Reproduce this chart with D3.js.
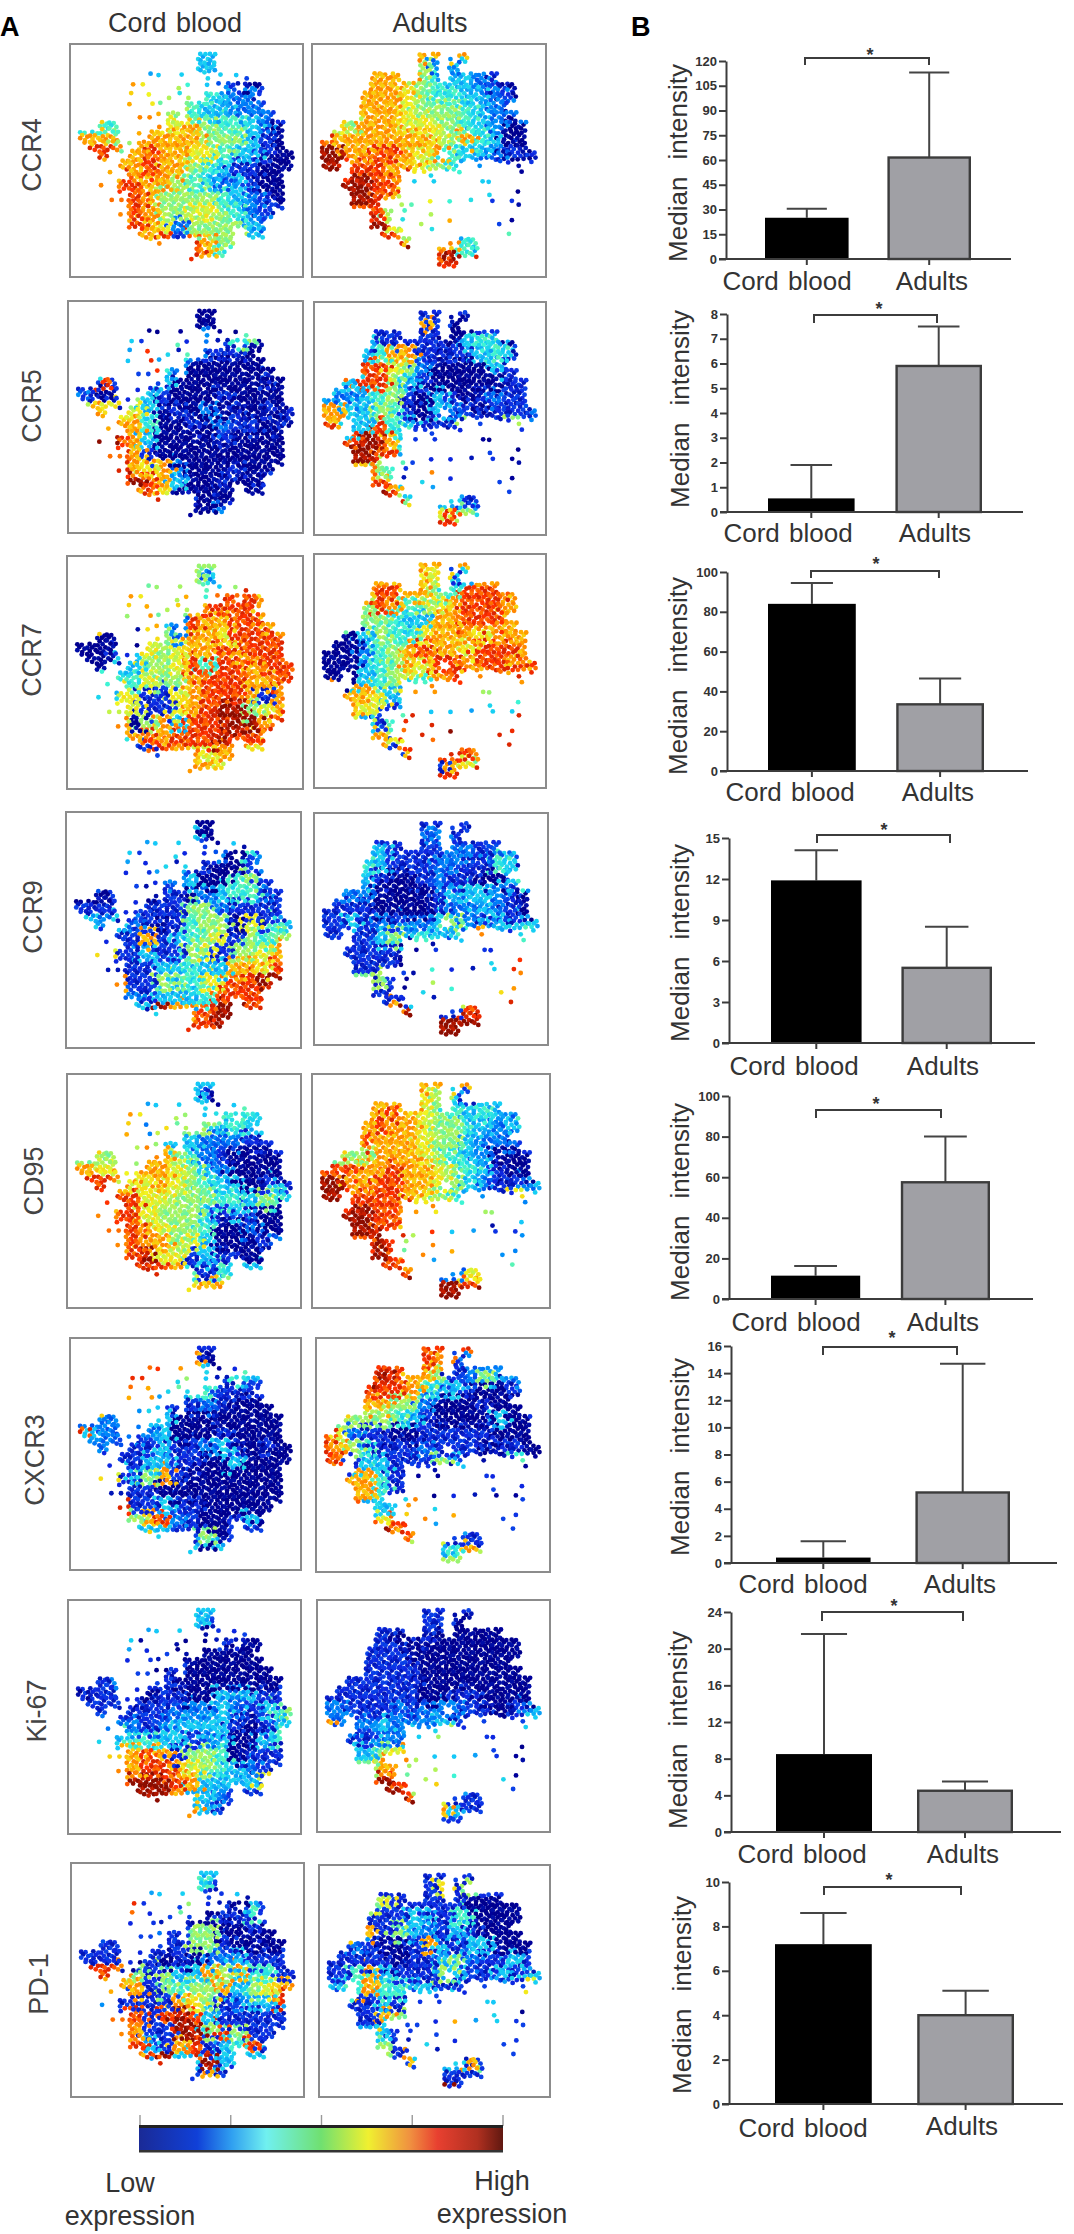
<!DOCTYPE html>
<html>
<head>
<meta charset="utf-8">
<script src="https://cdn.jsdelivr.net/npm/d3@7/dist/d3.min.js"></script>
<style>
html,body{margin:0;padding:0;background:#fff}
svg{display:block}
text{font-family:"Liberation Sans",Arial,sans-serif;fill:#333}
</style>
</head>
<body>
<div id="chart"></div>
<script>
/* ---------- panel B values ---------- */
const groups = ["Cord blood", "Adults"];
const markers = ["CCR4","CCR5","CCR7","CCR9","CD95","CXCR3","Ki-67","PD-1"];
const cordMedian = [25, 0.55, 84, 11.9, 11.5, 0.4, 8.5, 7.2];
const cordUpper  = [30.5, 1.9, 94.5, 14.1, 16.3, 1.6, 21.6, 8.6];
const adultMedian = [61.5, 5.9, 33.5, 5.5, 57.5, 5.2, 4.5, 4.0];
const adultUpper  = [113, 7.5, 46.5, 8.5, 80, 14.7, 5.5, 5.1];
const yMax  = [120, 8, 100, 15, 100, 16, 24, 10];
const yStep = [15, 1, 20, 3, 20, 2, 4, 2];

/* ---------- panel A: shape of the two clouds (# dense, + sparse) ---------- */
const cordShape = [
"........................",
".............##.........",
".............##.........",
"........++.+..++.++.....",
"......++...++.++#+##....",
"......+.+.+++.#####+....",
"......+.++..########....",
".......+++#+#########...",
"...##....+############..",
".####..+##############..",
".+###++###############..",
"...#.+#################.",
".....##################.",
"....+.################..",
"...+.#################..",
".....+################..",
"....++################..",
".....+###############...",
"......##############....",
".......##########.##....",
"........++...####.......",
".............###........",
"............+...........",
"........................"];
const adultShape = [
"........................",
"...........##.+#........",
"...........##.#.........",
"......###..##.#####.....",
"......###############...",
".....################...",
".....###############....",
".....################...",
"...###################..",
"..####################..",
".#####################..",
".############.#########.",
".##.###########+.+.++++.",
"....#####.+++..+.....+..",
"...######.+.+....++.....",
"....#####.........+..+..",
"....###..++.+.+.+.+.++..",
"......##++..+...........",
"......##.+.+..+....++...",
".......##+..+.......+...",
".........#....+##.......",
".............####.......",
".............##.........",
"........................"];

/* ---------- panel A: expression level (0 low – 9 high) by picture region ---------- */
const ccr4Cord = ["3333333333333333","3333333333333333","3333766433210011","7777765544322111","7777775543322211","4444776675443200","7775777775553100","8887787766433100","7777787754311000","7778877543231000","8888875555432100","7777875566542111","8888876255553222","7777778187553333","5555555587444444","4444444444444444"];
const ccr4Adult = ["7777777777777777","7777777522321111","7777777543321000","7777776544332100","7777776555432222","6657776665432000","8777777765743000","9977887674332111","9988877654321000","9999888333333000","9999876644431111","8888854577531000","9999965544331111","8888887277444444","9999999989433333","8888888888888888"];
const ccr5Cord = ["0000000000000000","0000000000000000","3333311112145000","3333483421110001","4444484200000000","1181113000000100","2101531000100000","5766630102010101","4777740010211010","9998730000100000","8888710000000000","8888767200010000","8888987300100100","8888786010000000","6666666600210000","4444444440000000"];
const ccr5Adult = ["1111111111111111","1111111710011111","3333111110343000","3333477111134311","8888865200003111","3338853100000111","3223451031012111","7733541032101112","8733843111511511","8889974110000000","9999883111111002","7777541711111033","8888873333311344","9999985533111111","6666666668531111","8888888888533333"];
const ccr7Cord = ["5555555555555555","5555555552355555","7777765754888666","5555475578888766","7777773287788777","0000065277688885","0001365677878888","0003355684887888","4444465578887788","3336611678887178","6666611678995678","7777057388899788","4444787888988877","1111118776776677","8888888877677777","8888888888888888"];
const ccr7Adult = ["7777777777777777","7777777661377777","7777887754888777","5555874567888777","5555543377888777","0003544677767778","0002457877688877","0003457688788788","0003456478878878","7777633777754444","7776613333333377","6663148899968888","7777768888888866","7777717888878888","8888888817655555","8888888888888888"];
const ccr9Cord = ["0000000000000000","3333333330033333","3333311101204111","1111113311001210","2222212230045111","0001101102344211","1111111155211112","3323210145506143","1111171345615455","6661131156155677","1111113343377688","7777115546688999","2222213334888899","3333339778998888","9999999988999999","9999999999999999"];
const ccr9Adult = ["1111111111111111","1111111221111111","3333311112212311","4444311122114311","3333100121100342","2222000013332100","1111000012232100","1131212235213133","1111353433473344","1111110011118844","1111110461133877","5555510564344787","1111111313666888","1111179711888888","9999999999999999","9999999999999999"];
const cd95Cord = ["3333333333333333","3333333331033333","7777765533444333","7777726555343333","7777753332221111","5555577542100000","7766677653200001","8887667654330131","8888866555443543","7778865553131000","8888876554002000","7777877563000121","8888896613110033","8888888741433333","6666666667755555","5555555555555555"];
const cd95Adult = ["7777777777777777","7777777653133333","7777787654343222","7777877655432344","7778777655322211","5555777654320000","8887787765431000","9977887765321123","9988887654321623","9999888766553330","9999887883301111","8888985777222222","9999987732222244","8888888822665444","9999999999876666","9999999999999999"];
const cxcr3Cord = ["1111111111111111","8888888770011111","9999887543143311","7777773344111100","7777431112100000","2222233000000000","8322123000100000","2221113112310100","1111133110030000","6661357100000000","1111110000000000","8888113110000000","5555578210013000","3333333115011111","3333333330311111","1111111111111111"];
const cxcr3Adult = ["8888888888888888","8888888871222222","8888987751253211","8888887433100121","7777755200010001","5555543100003000","8621100111110000","8754111211101100","8813311153100400","7777411000111111","7777411001110000","8883337337660111","8888688733331333","8888978661111111","5555555534711111","5555555555555555"];
const ki67Cord = ["3333333333333333","3333333333111111","3333300000110000","1111111000000000","1111100100000000","1112111000000000","0111101100323110","1111111222321345","2222212333310133","3333443312300341","7777787155401111","5557788765432111","8888999873333611","9999999733211111","3333333373111111","1111111111111111"];
const ki67Adult = ["1111111111111111","1111111110000000","1111100100000000","1111110000000000","1111111000000000","1111111000000000","1111111001100000","2211121222110123","7222322231110133","1111223355111001","3333567353311001","5555775544333001","8888988573333300","9999998861111111","9999999873111111","1111111111111111"];
const pd1Cord = ["3333333333333333","3333333344133333","8888811511103111","1111111100114100","2222221155001000","1111111155100000","1111010102231111","8887515337574411","7777715455735677","2211111765123383","8888818983111111","7777711995851111","8888831781348161","7777789339333333","8888888817111111","9999999999111111"];
const pd1Adult = ["1111111111111111","1111111161511111","5555611111000000","1111113314400000","7777153213100000","1121001731330000","1111101135211310","1147311153113133","3347443311111160","1111311113333000","1111755177333100","3333311111111111","5555517311111111","5555517733711111","1111111111151111","9999999991111111"];

const cordPanels  = [ccr4Cord, ccr5Cord, ccr7Cord, ccr9Cord, cd95Cord, cxcr3Cord, ki67Cord, pd1Cord];
const adultPanels = [ccr4Adult, ccr5Adult, ccr7Adult, ccr9Adult, cd95Adult, cxcr3Adult, ki67Adult, pd1Adult];

/* ---------- colour ---------- */
const levelColours = ["#00008e","#0a26e0","#0078f8","#12c8f8","#3cf4d4","#98f470","#f0f420","#ffac00","#ff3000","#8c0a00"];
const barColours = [[0,"#1a2a96"],[0.16,"#1040d8"],[0.255,"#30a0f0"],[0.35,"#70f0f0"],[0.5,"#70e070"],[0.63,"#f0f030"],[0.745,"#f09040"],[0.82,"#e84030"],[0.93,"#b03020"],[1,"#601810"]];

/* ---------- layout ---------- */
const framesCord = [[70,303,44,277],[68,303,301,533],[67,303,556,789],[66,301,812,1048],[67,301,1074,1308],[70,301,1338,1570],[68,301,1600,1834],[71,304,1863,2097]];
const framesAdult = [[312,546,44,277],[314,546,302,535],[314,546,554,788],[314,548,813,1045],[312,550,1074,1308],[316,550,1338,1572],[317,550,1600,1832],[319,550,1865,2097]];
const markerLabelPos = [[41,155],[41,406],[41,660],[42,917],[43,1181],[44,1460],[46,1711],[48,1984]];
const barFrames = [
 [726,61,259,1011,765,849,888,971],[727,314,512,1023,768,855,896,982],
 [727,572,771,1028,768,857,898,984],[729,838,1043,1035,771,862,902,992],
 [729,1096,1299,1033,771,861,902,990],[731,1346,1563,1057,776,871,916,1010],
 [731,1612,1832,1061,776,872,917,1013],[729,1882,2104,1063,775,873,919,1014]];
const brackets = [[805,929,58,65,870,50],[814,937,315,323,879,304],[811,939,571,578,876,559],[817,950,835,843,884,825],
 [816,941,1110,1118,876,1099],[823,957,1347,1355,892,1333],[822,963,1612,1621,894,1601],[824,961,1887,1895,889,1875]];
const barLabels = [[787,932,290,290],[788,935,542,542],[790,938,801,801],[794,943,1075,1075],[796,943,1331,1331],[803,960,1593,1593],[802,963,1863,1863],[803,962,2137,2135]];
const yLabels = [[687,163],[689,409],[687,676],[689,943],[689,1202],[689,1457],[687,1730],[691,1995]];

const svg = d3.select("#chart").append("svg").attr("width",1074).attr("height",2234).attr("viewBox","0 0 1074 2234");
const defs = svg.append("defs");
defs.append("filter").attr("id","soft").attr("x","-5%").attr("y","-5%").attr("width","110%").attr("height","110%")
  .append("feGaussianBlur").attr("stdDeviation",0.6);
const grad = defs.append("linearGradient").attr("id","jet");
grad.selectAll("stop").data(barColours).join("stop").attr("offset",d=>d[0]).attr("stop-color",d=>d[1]);

const colour = d3.scaleLinear().domain(d3.range(levelColours.length)).range(levelColours).clamp(true);
/* fixed placement of the dots inside a cell of the cloud, with the small shade step each dot takes */
const stamps = [
 [[.12,.2,0],[.62,.08,.3],[.9,.42,-.5],[.38,.52,.15],[.1,.88,-.3],[.7,.82,.3]],
 [[.3,.06,-.5],[.82,.2,.15],[.08,.45,.3],[.55,.42,0],[.32,.78,-.3],[.92,.7,-.5]],
 [[.5,.15,.15],[.05,.1,-.3],[.78,.55,.3],[.25,.38,-.5],[.55,.9,0],[.05,.7,.3]],
 [[.2,.55,.3],[.7,.3,-.5],[.42,.02,0],[.95,.05,.15],[.45,.7,-.3],[.85,.92,.3]]];
const shadeSpread = 2.4;

function cloud(frame, shape, levels){
  const [x0,x1,y0,y1] = frame;
  const gridN = shape.length, lvN = levels.length;
  const x = d3.scaleLinear().domain([0,gridN]).range([x0,x1]);
  const y = d3.scaleLinear().domain([0,gridN]).range([y0,y1]);
  const dots = [];
  shape.forEach((row,r)=>{
    [...row].forEach((ch,c)=>{
      if(ch==="." ) return;
      const s = stamps[(r*7+c*3+(r*c)%3)%4];
      (ch==="#" ? s : s.slice(0,1)).forEach(p=>{
        const gx=c+p[0], gy=r+p[1];
        const sx=c+.5+(p[0]-.5)*shadeSpread, sy=r+.5+(p[1]-.5)*shadeSpread;
        const lr=levels[Math.max(0,Math.min(lvN-1,Math.floor(sy/gridN*lvN)))];
        const lv=+lr[Math.max(0,Math.min(lr.length-1,Math.floor(sx/gridN*lr.length)))]+p[2];
        dots.push({gx,gy,lv});
      });
    });
  });
  const g = svg.append("g").attr("filter","url(#soft)");
  g.selectAll("circle").data(dots).join("circle")
    .attr("cx",d=>x(d.gx)).attr("cy",d=>y(d.gy)).attr("r",2.4).attr("fill",d=>colour(d.lv));
  svg.append("rect").attr("x",x0).attr("y",y0).attr("width",x1-x0).attr("height",y1-y0)
    .attr("fill","none").attr("stroke","#8c8c8c").attr("stroke-width",2);
}
markers.forEach((m,i)=>{
  cloud(framesCord[i], cordShape, cordPanels[i]);
  cloud(framesAdult[i], adultShape, adultPanels[i]);
  const [lx,ly]=markerLabelPos[i];
  svg.append("text").attr("transform",`translate(${lx},${ly}) rotate(-90)`)
    .attr("text-anchor","middle").attr("font-size",27).style("fill","#444").text(m);
});

svg.append("text").attr("x",0).attr("y",36).attr("font-size",27).attr("font-weight","bold").style("fill","#000").text("A");
svg.append("text").attr("x",631).attr("y",36).attr("font-size",27).attr("font-weight","bold").style("fill","#000").text("B");
svg.append("text").attr("x",175).attr("y",32).attr("text-anchor","middle").attr("font-size",27).style("word-spacing","2px").text(groups[0]);
svg.append("text").attr("x",430).attr("y",32).attr("text-anchor","middle").attr("font-size",27).text(groups[1]);

markers.forEach((m,i)=>{
  const [ax,yTop,y0,xEnd,L0,R0,L1,R1] = barFrames[i];
  const g = svg.append("g");
  const y = d3.scaleLinear().domain([0,yMax[i]]).range([y0,yTop]);
  const x = d3.scaleBand().domain(groups).range([L0,R1]).paddingInner((L1-R0)/(L1-L0)).paddingOuter(0);
  const rows = [
    {g:groups[0], v:cordMedian[i], u:cordUpper[i]},
    {g:groups[1], v:adultMedian[i], u:adultUpper[i]}];
  const capW = x.bandwidth()*0.24;
  g.selectAll(".stem").data(rows).join("line").attr("x1",d=>x(d.g)+x.bandwidth()/2).attr("x2",d=>x(d.g)+x.bandwidth()/2)
    .attr("y1",d=>y(d.v)).attr("y2",d=>y(d.u)).attr("stroke","#444").attr("stroke-width",2);
  g.selectAll(".cap").data(rows).join("line").attr("x1",d=>x(d.g)+x.bandwidth()/2-capW).attr("x2",d=>x(d.g)+x.bandwidth()/2+capW)
    .attr("y1",d=>y(d.u)).attr("y2",d=>y(d.u)).attr("stroke","#444").attr("stroke-width",2);
  g.selectAll(".bar").data(rows).join("rect")
    .attr("x",(d,k)=>x(d.g)+(k?1.2:0)).attr("width",(d,k)=>x.bandwidth()-(k?2.4:0))
    .attr("y",d=>y(d.v)).attr("height",d=>y0-y(d.v))
    .attr("fill",(d,k)=>k?"#a0a0a5":"#000").attr("stroke",(d,k)=>k?"#3c3c3c":"none").attr("stroke-width",2.4);
  const ya = g.append("g").attr("transform",`translate(${ax},0)`)
    .call(d3.axisLeft(y).tickValues(d3.range(0,yMax[i]+yStep[i]/2,yStep[i])).tickSize(7).tickPadding(2).tickSizeOuter(0));
  ya.select(".domain").attr("stroke","#3c3c3c").attr("stroke-width",2);
  ya.selectAll(".tick line").attr("stroke","#3c3c3c").attr("stroke-width",2);
  ya.selectAll(".tick text").attr("font-family",null).attr("font-size",13).attr("font-weight","bold");
  const xa = g.append("g").attr("transform",`translate(0,${y0})`)
    .call(d3.axisBottom(x).tickSize(6).tickFormat(""));
  xa.select(".domain").remove();
  xa.selectAll(".tick line").attr("stroke","#3c3c3c").attr("stroke-width",2);
  g.append("line").attr("x1",ax-7).attr("x2",xEnd).attr("y1",y0).attr("y2",y0).attr("stroke","#3c3c3c").attr("stroke-width",2);
  const [lc,la,bc,ba]=barLabels[i];
  g.append("text").attr("x",lc).attr("y",bc).attr("text-anchor","middle").attr("font-size",26).style("word-spacing","2px").text(groups[0]);
  g.append("text").attr("x",la).attr("y",ba).attr("text-anchor","middle").attr("font-size",26).text(groups[1]);
  const [yx,yy]=yLabels[i];
  g.append("text").attr("transform",`translate(${yx},${yy}) rotate(-90)`).attr("text-anchor","middle")
    .attr("font-size",26).style("word-spacing","10px").text("Median intensity");
  const [b0,b1,by,bl,sx,sy]=brackets[i];
  g.append("path").attr("d",d3.line()([[b0,bl],[b0,by],[b1,by],[b1,bl]])).attr("fill","none").attr("stroke","#3c3c3c").attr("stroke-width",2);
  g.append("text").attr("x",sx).attr("y",sy+11).attr("text-anchor","middle").attr("font-size",18).attr("font-weight","bold").text("*");
});

const barX = d3.scaleLinear().domain([0,4]).range([140,503]);
svg.append("g").selectAll("line").data(d3.range(5)).join("line")
  .attr("x1",d=>barX(d)).attr("x2",d=>barX(d)).attr("y1",2115).attr("y2",2126).attr("stroke","#999").attr("stroke-width",1.4);
svg.append("rect").attr("x",139).attr("y",2126).attr("width",364).attr("height",26).attr("fill","url(#jet)");
svg.append("rect").attr("x",139).attr("y",2125).attr("width",364).attr("height",3).attr("fill","#222");
svg.append("rect").attr("x",139).attr("y",2150).attr("width",364).attr("height",2.5).attr("fill","#333");
[["Low",130,2192],["expression",130,2225],["High",502,2190],["expression",502,2223]].forEach(t=>{
  svg.append("text").attr("x",t[1]).attr("y",t[2]).attr("text-anchor","middle").attr("font-size",27).text(t[0]);
});
</script>
</body>
</html>
